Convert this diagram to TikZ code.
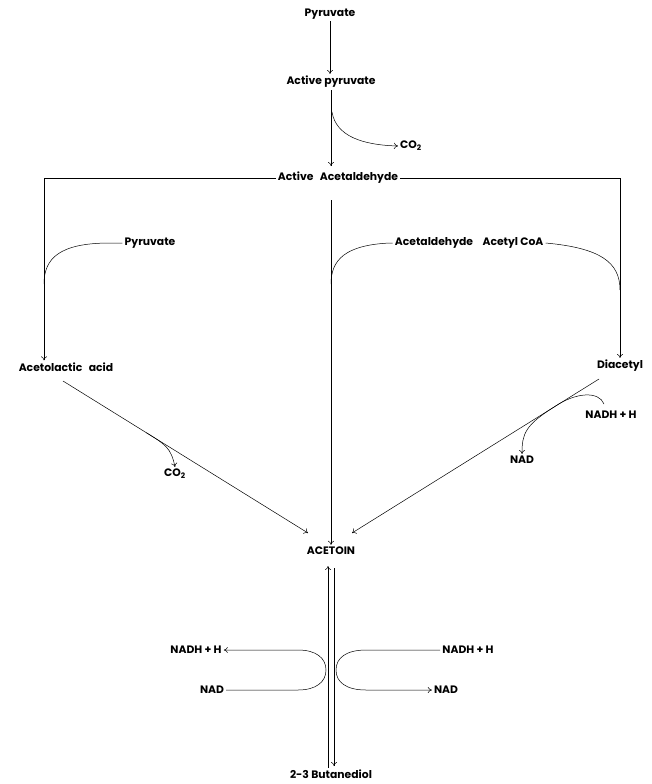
\documentclass[tikz,border=0pt]{standalone}
\usepackage{fontspec}
\setmainfont{Poppins}
\usetikzlibrary{calc,arrows.meta}

\begin{document}
\begin{tikzpicture}[x=1pt, y=-1pt, line width=0.5pt,
		chem/.style={font=\fontsize{10.8}{12}\selectfont\bfseries, inner sep=2pt},
		rxn/.style={-{To[length=4pt,width=6pt]}}]
		\useasboundingbox (0,0) rectangle (652,784);

		% compounds
		\node[chem] (pyr) at (330,14) {Pyruvate};
		\node[chem] (apyr) at (331,82) {Active pyruvate};
		\node[chem] (co2a) at (411,146) {CO\textsubscript{2}};
		\node[chem] (aald) at (338,178) {Active\hspace{0.6em}Acetaldehyde};
		\node[chem] (pyr2) at (150,243) {Pyruvate};
		\node[chem] (acald) at (434,243) {Acetaldehyde};
		\node[chem] (acoa) at (513,243) {Acetyl CoA};
		\node[chem] (alac) at (66,367) {Acetolactic\hspace{0.6em}acid};
		\node[chem] (diac) at (620,366) {Diacetyl};
		\node[chem] (co2b) at (175,474) {CO\textsubscript{2}};
		\node[chem] (nadh1) at (611,415) {NADH + H};
		\node[chem] (nad1) at (522,460) {NAD};
		\node[chem] (acetoin) at (331,551) {ACETOIN};
		\node[chem] (nadhL) at (196,650) {NADH + H};
		\node[chem] (nadL) at (212,690) {NAD};
		\node[chem] (nadhR) at (468,650) {NADH + H};
		\node[chem] (nadR) at (446,690) {NAD};
		\node[chem] (btd) at (331,774) {2-3 Butanediol};

		\coordinate (lc) at (44,178);
		\coordinate (rc) at (620,178);
		\coordinate (mid) at (331,200);
		\coordinate (l0) at (63,381);
		\coordinate (r0) at (599,379);
		\coordinate (ltip) at (308,533);
		\coordinate (rtip) at (352,533);
		\coordinate (tng) at ($(r0)!0.18!(rtip)$);

		% top chain
		\draw[rxn] (pyr) -- (pyr |- apyr.north);
		\draw[rxn] (apyr.south -| 331,0) -- (331,166);
		\draw[rxn] (332,112) .. controls (336,136) and (362,145) .. (co2a.west);

		% three branches
		\draw (aald.west) -- (lc);
		\draw[rxn] (lc) -- (lc |- alac.north);
		\draw (aald.east) -- (rc);
		\draw[rxn] (rc) -- (rc |- diac.north);
		\draw[rxn] (mid) -- (acetoin.north);

		\draw (pyr2.west) -- (110,243) .. controls (60,243) and (44,258) .. (44,284);
		\draw (acald.west) -- (390,243) .. controls (345,245) and (331,260) .. (331,284);
		\draw (acoa.east) .. controls (600,248) and (620,262) .. (620,290);

		% to acetoin
		\draw[rxn] (l0) -- (ltip);
		\draw[rxn] ($(l0)!0.34!(ltip)$) .. controls ($(l0)!0.42!(ltip)$) and (171,448) .. (co2b.north);
		\draw[rxn] (r0) -- (rtip);
		\draw[rxn] (604,404) .. controls (599,391) and (576,392) .. (tng)
			.. controls ($(r0)!0.3!(rtip)$) and (522,434) .. (nad1.north);

		% acetoin <-> butanediol
		\draw[rxn] (328,768) -- (328,566);
		\draw[rxn] (334,568) -- (334,766);
		\draw[rxn] (nadL.east) -- (298,690) .. controls (316,690) and (326,682) .. (326,670)
			.. controls (326,658) and (316,650) .. (298,650) -- (nadhL.east);
		\draw[rxn] (nadhR.west) -- (366,650) .. controls (346,650) and (336,658) .. (336,670)
			.. controls (336,682) and (346,690) .. (366,690) -- (nadR.west);
	\end{tikzpicture}
\end{document}
